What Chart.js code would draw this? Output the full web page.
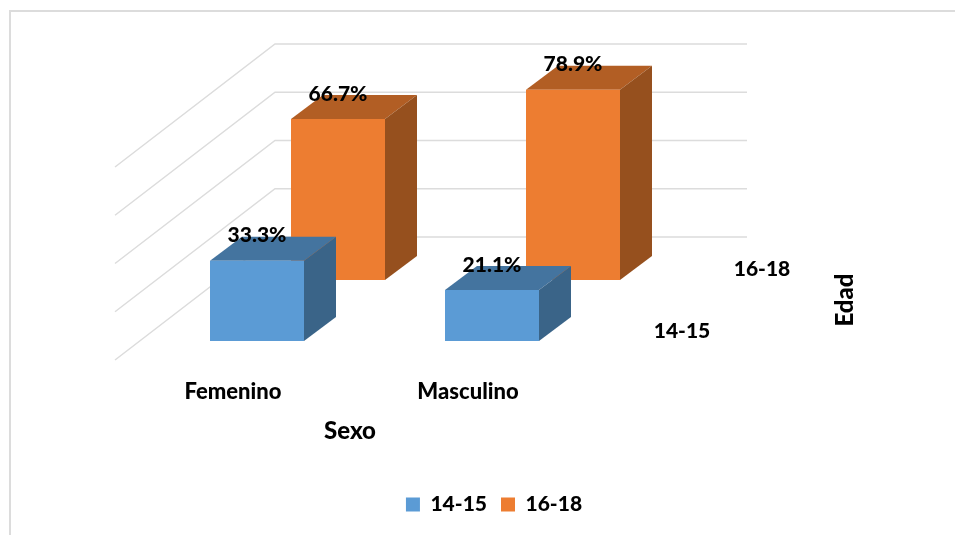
<!DOCTYPE html>
<html>
<head>
<meta charset="utf-8">
<script src="https://cdn.jsdelivr.net/npm/chart.js@4"></script>
<style>
  html, body { margin: 0; padding: 0; background: #fff; overflow: hidden; }
  #marco { position: absolute; left: 9px; top: 10px; width: 960px; height: 540px; border: 2px solid #dcdcdc; }
  #myChart { position: absolute; left: 0; top: 0; }
</style>
</head>
<body>
<div id="marco"></div>
<canvas id="myChart" width="955" height="535"></canvas>
<script>
const categorias = ['Femenino', 'Masculino'];
const series = ['14-15', '16-18'];
const edad1415 = [33.3, 21.1];
const edad1618 = [66.7, 78.9];
const gridValores = [0, 20, 40, 60, 80];

const fuente = 'Lato, sans-serif';
const peso = 900;
const colores = [
    { cara: '#5b9bd5', arriba: '#44749f', lado: '#3a6488' },
    { cara: '#ed7d31', arriba: '#b25e24', lado: '#96501e' }
];
// fondo de cada serie respecto a la primera fila
const fila = [{ x: 0, y: 0 }, { x: 81, y: -61 }];
const prof = { x: 32, y: -24 };

const barras3d = {
    id: 'barras3d',
    afterLayout(chart) {
        // la leyenda no va centrada sobre el area de barras
        const l = chart.legend;
        const d = 494 - (l.left + l.right) / 2;
        l.left += d;
        l.right += d;
        const h = l.bottom - l.top;
        l.top = 480;
        l.bottom = 480 + h;
    },
    beforeDatasetsDraw(chart) {
        const ctx = chart.ctx;
        const y = chart.scales.y;
        ctx.save();
        ctx.strokeStyle = '#dcdcdc';
        ctx.lineWidth = 1.5;
        gridValores.forEach(v => {
            const p = y.getPixelForValue(v);
            ctx.beginPath();
            ctx.moveTo(115, p + 19);
            ctx.lineTo(275, p - 104);
            ctx.lineTo(747, p - 104);
            ctx.stroke();
        });
        ctx.restore();
    },
    beforeDatasetDraw(chart, args) {
        const ctx = chart.ctx;
        const f = fila[args.index];
        const c = colores[args.index];
        ctx.save();
        ctx.translate(f.x, f.y);
        args.meta.data.forEach(b => {
            const izq = b.x - b.width / 2;
            const der = b.x + b.width / 2;
            // cara de arriba
            ctx.fillStyle = c.arriba;
            ctx.beginPath();
            ctx.moveTo(izq, b.y);
            ctx.lineTo(izq + prof.x, b.y + prof.y);
            ctx.lineTo(der + prof.x, b.y + prof.y);
            ctx.lineTo(der, b.y);
            ctx.closePath();
            ctx.fill();
            // lado
            ctx.fillStyle = c.lado;
            ctx.beginPath();
            ctx.moveTo(der, b.y);
            ctx.lineTo(der + prof.x, b.y + prof.y);
            ctx.lineTo(der + prof.x, b.base + prof.y);
            ctx.lineTo(der, b.base);
            ctx.closePath();
            ctx.fill();
        });
    },
    afterDatasetDraw(chart) {
        chart.ctx.restore();
    },
    afterDatasetsDraw(chart) {
        const ctx = chart.ctx;
        ctx.save();
        ctx.fillStyle = '#000';
        ctx.textAlign = 'center';
        ctx.textBaseline = 'middle';
        ctx.font = peso + ' 21px ' + fuente;
        chart.data.datasets.forEach((ds, i) => {
            chart.getDatasetMeta(i).data.forEach((b, j) => {
                ctx.fillText(ds.data[j].toFixed(1) + '%', b.x + fila[i].x, b.y + fila[i].y - 25);
            });
        });
        ctx.fillText(series[1], 762, 269);
        ctx.fillText(series[0], 682, 331);
        ctx.font = peso + ' 24px ' + fuente;
        ctx.fillText('Sexo', 350, 431);
        ctx.translate(845, 300);
        ctx.rotate(-Math.PI / 2);
        ctx.fillText('Edad', 0, 0);
        ctx.restore();
    }
};

new Chart(document.getElementById('myChart'), {
    type: 'bar',
    data: {
        labels: categorias,
        datasets: [
            { label: series[0], data: edad1415, backgroundColor: colores[0].cara, clip: false },
            { label: series[1], data: edad1618, backgroundColor: colores[1].cara, clip: false }
        ]
    },
    options: {
        responsive: false,
        animation: false,
        devicePixelRatio: 1,
        layout: { padding: { left: 139.5, right: 345.5, top: 148, bottom: 69 } },
        datasets: { bar: { grouped: false, categoryPercentage: 1, barPercentage: 0.4 } },
        scales: {
            x: {
                grid: { display: false },
                border: { display: false },
                ticks: {
                    color: '#000',
                    font: { family: fuente, size: 22, weight: peso },
                    padding: 30,
                    labelOffset: -24,
                    maxRotation: 0,
                    autoSkip: false
                },
                afterFit(s) { s.height = 80; }
            },
            y: { display: false, min: 0, max: 80, ticks: { stepSize: 20 } }
        },
        plugins: {
            tooltip: { enabled: false },
            legend: {
                position: 'bottom',
                labels: {
                    color: '#000',
                    boxWidth: 14,
                    boxHeight: 14,
                    padding: 14,
                    font: { family: fuente, size: 21, weight: peso }
                }
            }
        }
    },
    plugins: [barras3d]
});
</script>
</body>
</html>
